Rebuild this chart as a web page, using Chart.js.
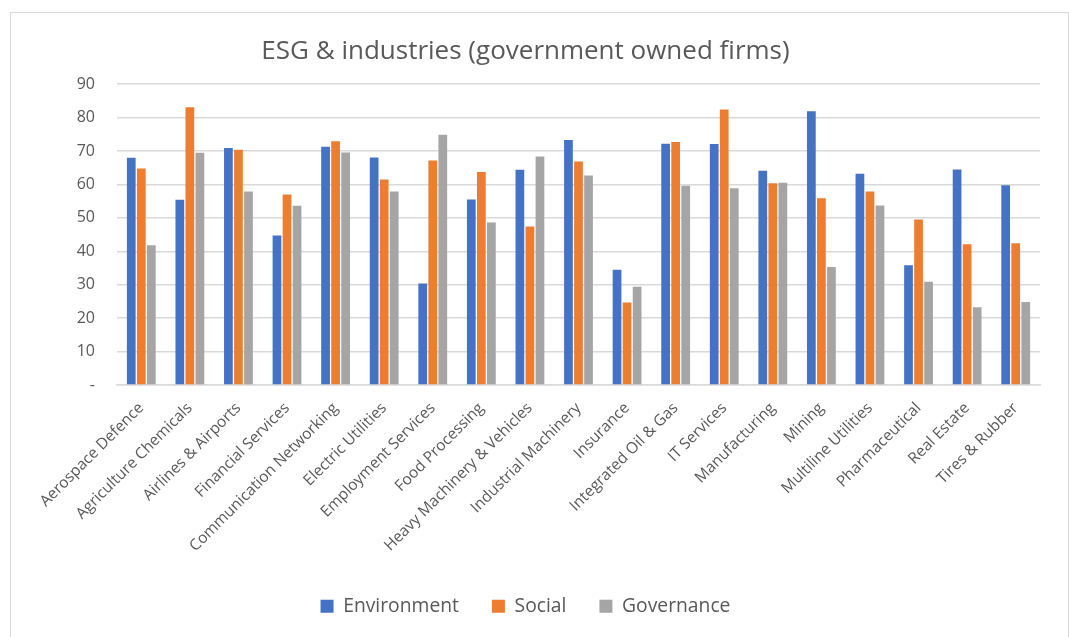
<!DOCTYPE html>
<html>
<head>
<meta charset="utf-8">
<script src="https://cdn.jsdelivr.net/npm/chart.js@4.4.1/dist/chart.umd.min.js"></script>
<style>
  html, body { margin: 0; padding: 0; background: #ffffff; }
  #frame {
    position: absolute; left: 10px; top: 12px; width: 1057px; height: 640px;
    border-left: 1px solid #d9d9d9; border-top: 1px solid #d9d9d9; border-right: 1px solid #d9d9d9;
    background: #ffffff;
  }
  #wrap { position: absolute; left: 0; top: 0; width: 1057px; height: 625px; }
</style>
</head>
<body>
<div id="frame"><div id="wrap"><canvas id="c" width="1057" height="625"></canvas></div></div>
<script>
const categories = [
  "Aerospace Defence", "Agriculture Chemicals", "Airlines & Airports", "Financial Services",
  "Communication Networking", "Electric Utilities", "Employment Services", "Food Processing",
  "Heavy Machinery & Vehicles", "Industrial Machinery", "Insurance", "Integrated Oil & Gas",
  "IT Services", "Manufacturing", "Mining", "Multiline Utilities", "Pharmaceutical",
  "Real Estate", "Tires & Rubber"
];
const environment = [68.0, 55.4, 70.9, 44.7, 71.3, 68.1, 30.4, 55.5, 64.4, 73.3, 34.5, 72.2, 72.1, 64.1, 81.9, 63.2, 35.8, 64.5, 59.8];
const social      = [64.8, 83.1, 70.4, 57.0, 72.9, 61.5, 67.2, 63.7, 47.4, 66.9, 24.7, 72.7, 82.4, 60.4, 55.9, 57.9, 49.5, 42.1, 42.4];
const governance  = [41.8, 69.5, 57.9, 53.6, 69.6, 57.9, 74.9, 48.6, 68.4, 62.7, 29.4, 59.6, 58.9, 60.5, 35.3, 53.7, 30.9, 23.3, 24.8];
const yTicks = [0, 10, 20, 30, 40, 50, 60, 70, 80, 90];

const textColor = "#595959";
const fontFamily = "'Open Sans', 'Liberation Sans', sans-serif";
const PLOT_BOTTOM = 372;
const PAD_BOTTOM = 12;

new Chart(document.getElementById("c"), {
  type: "bar",
  data: {
    labels: categories,
    datasets: [
      { label: "Environment", data: environment, backgroundColor: "#4472C4" },
      { label: "Social", data: social, backgroundColor: "#ED7D31" },
      { label: "Governance", data: governance, backgroundColor: "#A5A5A5" }
    ]
  },
  options: {
    responsive: false,
    animation: false,
    devicePixelRatio: 1,
    layout: { padding: { left: 0, right: 28, top: 0, bottom: PAD_BOTTOM } },
    datasets: { bar: { categoryPercentage: 0.62, barPercentage: 0.87 } },
    plugins: {
      title: {
        display: true,
        text: "ESG & industries (government owned firms)",
        color: textColor,
        font: { family: fontFamily, size: 26, weight: "normal" },
        padding: { top: 23, bottom: 17 }
      },
      legend: {
        position: "bottom",
        labels: {
          color: textColor,
          font: { family: fontFamily, size: 19.3 },
          boxWidth: 13, boxHeight: 13,
          padding: 33
        }
      },
      tooltip: { enabled: false }
    },
    scales: {
      x: {
        afterFit: (scale) => {
          const lg = scale.chart.legend;
          const lh = lg ? lg.height : 0;
          scale.height = scale.chart.height - PAD_BOTTOM - lh - PLOT_BOTTOM;
        },
        grid: { display: false, drawTicks: false },
        border: { color: "#d9d9d9", width: 1.5 },
        ticks: {
          color: textColor,
          font: { family: fontFamily, size: 15.5 },
          minRotation: 45, maxRotation: 45,
          autoSkip: false,
          padding: 14
        }
      },
      y: {
        min: 0, max: 90,
        afterBuildTicks: (scale) => { scale.ticks = yTicks.map(v => ({ value: v })); },
        afterFit: (scale) => { scale.width = 106; },
        grid: { color: "#d9d9d9", lineWidth: 1.5, drawTicks: false },
        border: { display: false },
        ticks: {
          color: textColor,
          font: { family: fontFamily, size: 16 },
          padding: 22,
          callback: (v) => (v === 0 ? "-" : v)
        }
      }
    }
  }
});
</script>
</body>
</html>
